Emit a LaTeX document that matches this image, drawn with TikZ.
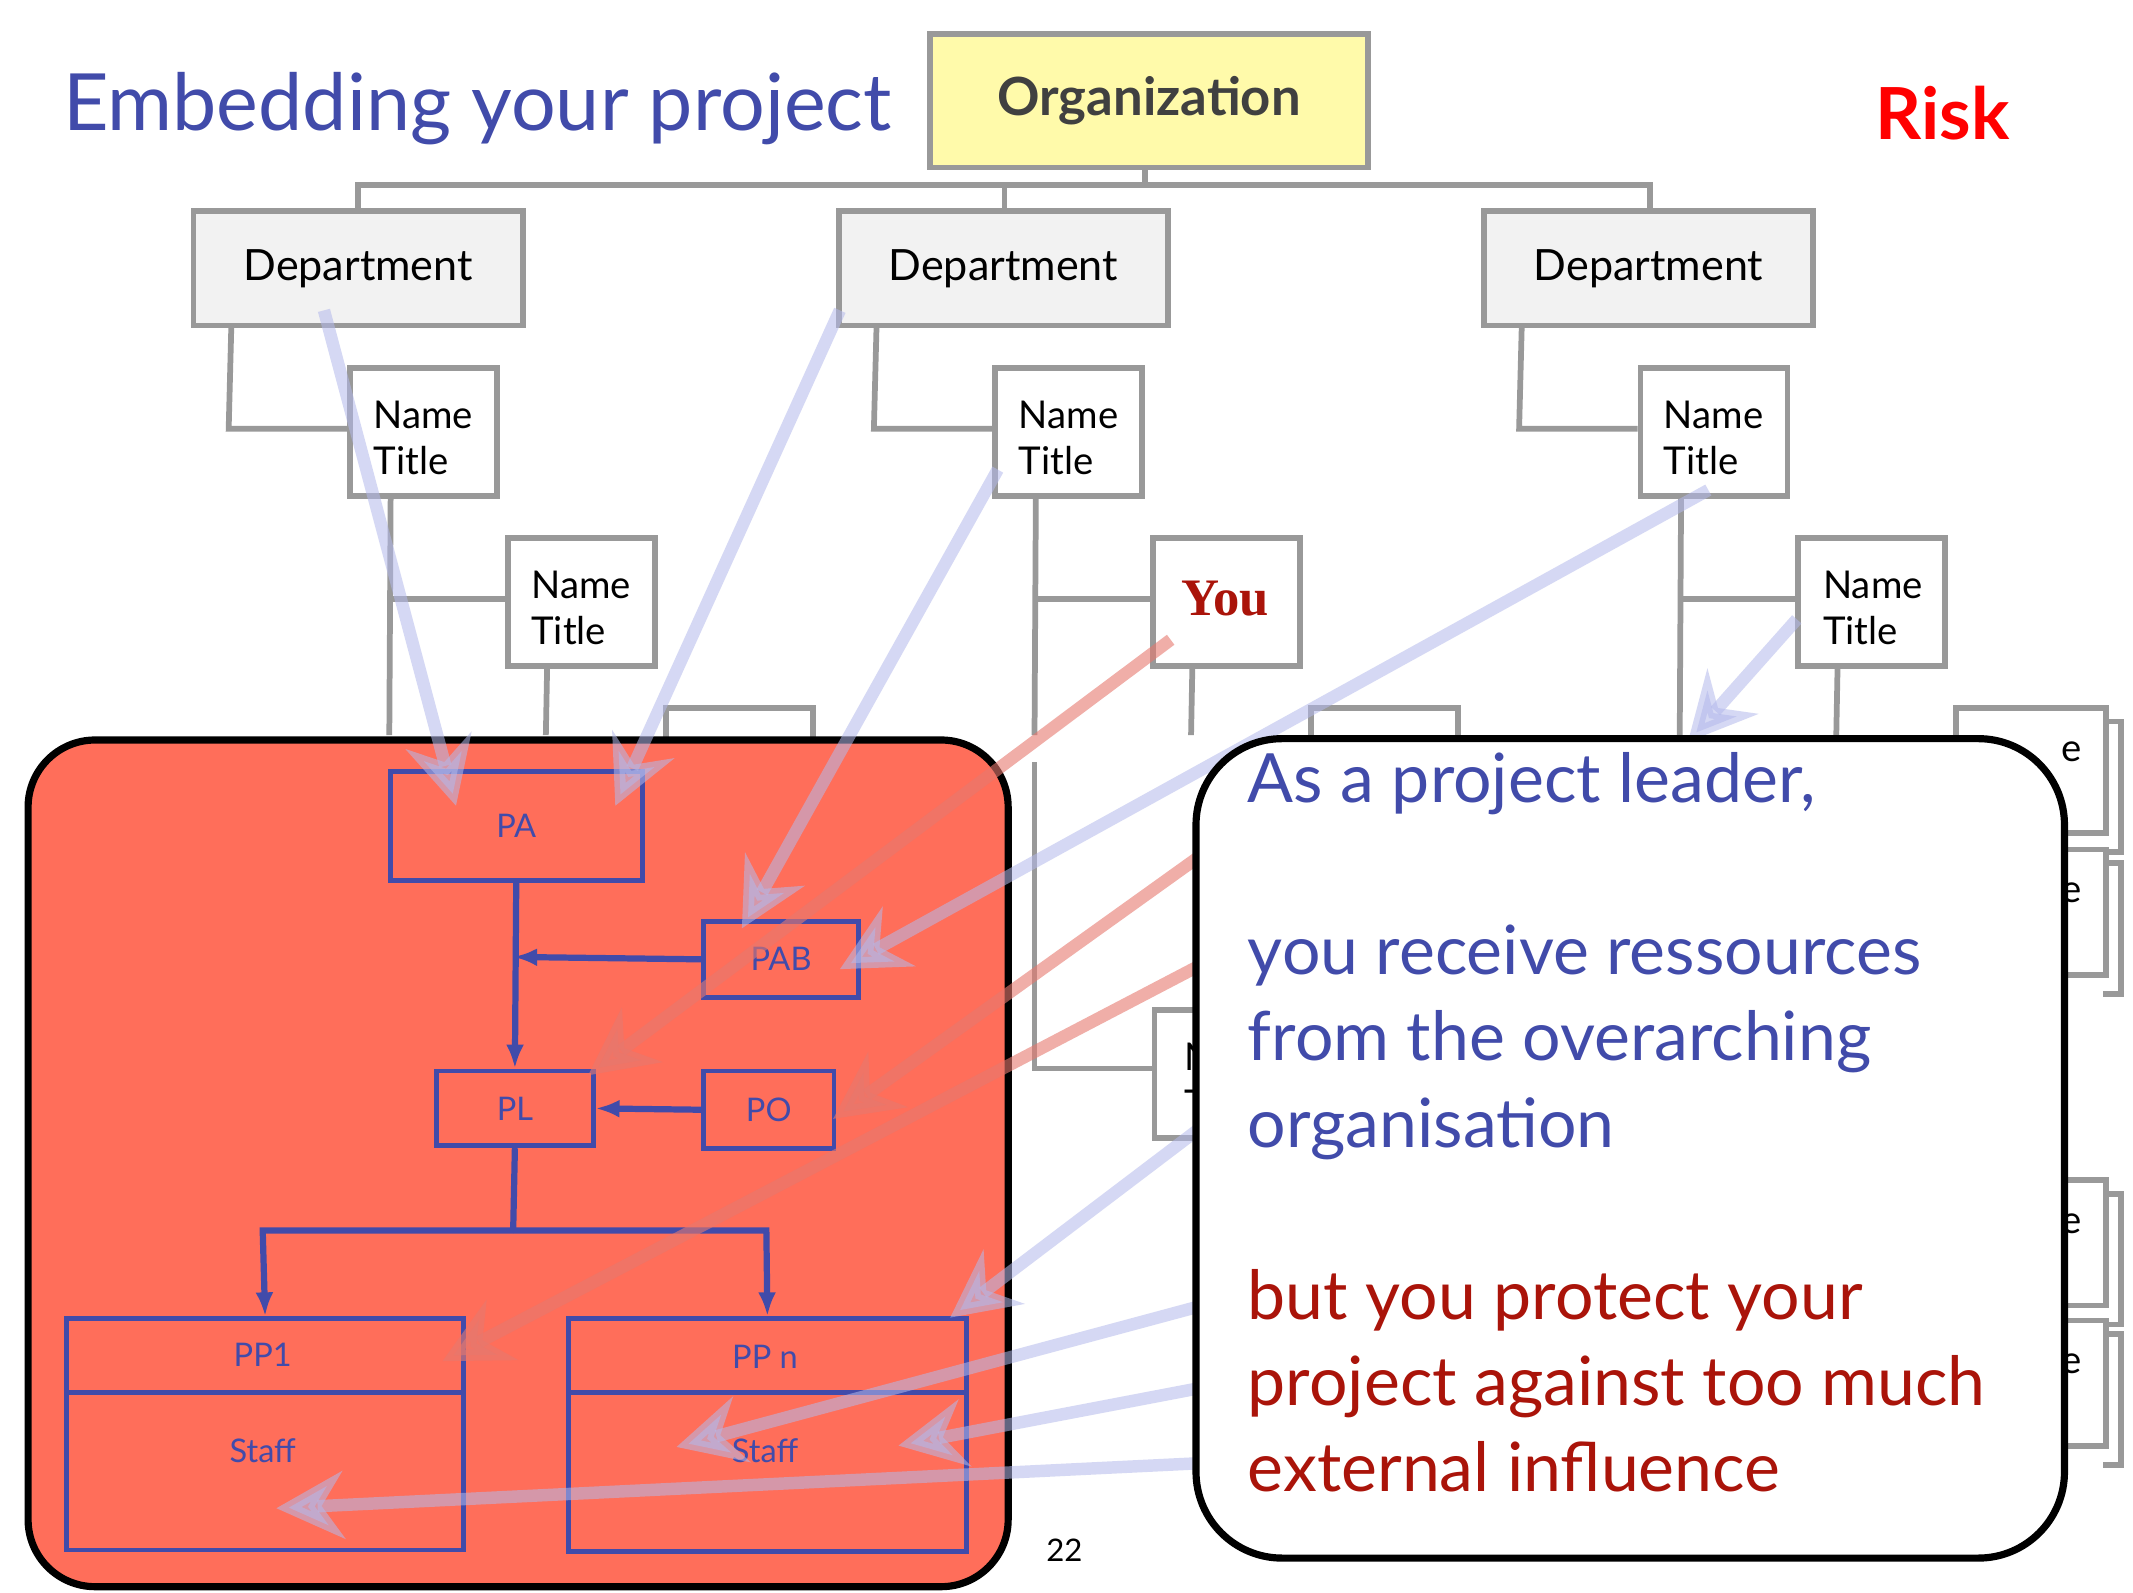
\documentclass[tikz,border=0pt]{standalone}
\usepackage{fontspec}
\setmainfont{Lato}
\usetikzlibrary{arrows.meta}
\definecolor{tblue}{RGB}{65,75,170}
\definecolor{tred}{RGB}{170,20,10}
\definecolor{orgy}{RGB}{255,250,170}
\definecolor{panel}{RGB}{255,110,90}
\definecolor{lav}{RGB}{180,185,235}
\definecolor{pnk}{RGB}{230,120,110}
\tikzset{
 gbox/.style={draw=gray!80,line width=1.2pt},
 gl/.style={draw=gray!80,line width=1.2pt},
 nt/.style={font=\fontsize{8}{9.7}\selectfont,align=left,anchor=north west},
 pb/.style={draw=tblue,line width=1pt},
 pt/.style={font=\fontsize{6.8}{8}\selectfont,text=tblue},
 pa/.style={draw=tblue,line width=1.3pt,-{Latex[length=5pt]}},
 fb/.style={draw=lav,opacity=0.55,line width=2.6pt,-{Stealth[length=14pt,width=14pt]}},
 fr/.style={draw=pnk,opacity=0.6,line width=2.6pt,-{Stealth[length=14pt,width=14pt]}},
 bx/.style 2 args={minimum width=#1*0.01cm,minimum height=#2*0.01cm,anchor=north west,inner sep=0},
}
\begin{document}
\begin{tikzpicture}[x=0.01cm,y=-0.01cm]
\useasboundingbox (0,0) rectangle (1567,1170);
\fill[white] (0,0) rectangle (1567,1170);
% title
\node[anchor=west,text=tblue,font=\fontsize{16.5}{18}\selectfont] (title) at (34,80) {Embedding your project};
\node[text=red,font=\fontsize{15}{18}\selectfont\bfseries] (risk) at (1427,83) {Risk};
% org connectors
\draw[gl] (841,121) -- (841,136);
\draw[gl] (263,153) -- (263,136) -- (1212,136) -- (1212,153);
\draw[gl] (738,136) -- (738,153);
\node[gbox,fill=orgy,bx={322}{98},font=\fontsize{11}{12}\selectfont\bfseries,text=black!75] (org) at (681,23) {Organization};
% columns
\foreach \dx/\nm in {0/a,474/b,948/c}{
 \draw[gl] (170+\dx,237) -- (168+\dx,315) -- (255+\dx,315);
 \draw[gl] (287+\dx,362) -- (286+\dx,540);
 \draw[gl] (287+\dx,440) -- (371+\dx,440);
 \draw[gl] (402+\dx,487) -- (401+\dx,540);
 \node[gbox,fill=black!5,bx={242}{84},font=\fontsize{9}{10}\selectfont] (d\nm) at (140+\dx,153) {Department};
 \node[gbox,fill=white,bx={108}{94}] (n\nm) at (255+\dx,268) {};
 \node[nt] at (262+\dx,282) {Name\\Title};
 \node[gbox,fill=white,bx={108}{94}] (m\nm) at (371+\dx,393) {};
 \node[gbox,fill=white,bx={108}{30}] (t\nm) at (487+\dx,518) {};
}
\node[nt] at (378,407) {Name\\Title};
\node[nt] at (1327,407) {Name\\Title};
\node[text=tred,font=\fontsize{11}{12}\selectfont\bfseries\fontspec{Liberation Serif}] at (900,440) {You};
\draw[gl] (760,560) -- (760,785) -- (846,785);
\node[gbox,fill=white,bx={60}{94}] (nb2) at (846,740) {};
\node[nt] at (858,754) {N\\T};
% right edge boxes
\foreach \yy in {518,622,865,968}{
 \node[gbox,fill=white,bx={110}{92}] at (1435,\yy) {};
 \node[font=\fontsize{8}{9}\selectfont] at (1522,\yy+34) {e};
 \draw[gl] (1545,\yy+12) -- (1558,\yy+12) -- (1558,\yy+108) -- (1545,\yy+108);
}
% red panel
\node[draw=black,line width=1.5pt,fill=panel,rounded corners=14,bx={720}{622}] (panel) at (18,541) {};
\node[pb,bx={185}{80},pt] (PA) at (285,565) {PA};
\node[pb,bx={114}{56},pt] (PAB) at (515,675) {PAB};
\node[pb,bx={115}{55},pt] (PL) at (319,785) {PL};
\node[pb,bx={96}{57},pt] (PO) at (515,785) {PO};
\node[pb,bx={292}{170}] (PP1) at (47,967) {};
\node[pb,bx={292}{171}] (PPn) at (416,967) {};
\draw[pb] (47,1023) -- (339,1023);
\draw[pb] (416,1023) -- (708,1023);
\node[pt] at (193,995) {PP1};
\node[pt] at (562,997) {PP n};
\node[pt] at (193,1066) {Staff};
\node[pt] at (562,1066) {Staff};
\coordinate (j1) at (377,703);
\coordinate (j2) at (377,904);
\draw[pa] (PA.south) -- (PL.north);
\draw[pa] (PAB.west) -- (j1);
\draw[pa] (PO.west) -- (PL.east);
\draw[pb,line width=1.3pt] (PL.south) -- (j2);
\draw[pa] (j2) -- (193,904) -- (PP1.north);
\draw[pa] (j2) -- (563,904) -- (PPn.north);
\node[font=\fontsize{6.5}{8}\selectfont] (pg) at (782,1139) {22};
% fuzzy arrows
\draw[fb] (238,228) -- (335,592);
\draw[fb] (617,228) -- (452,592);
\draw[fb] (733,345) -- (545,682);
\draw[fb] (1255,360) -- (617,712);
\draw[fb] (1320,455) -- (1240,545);
\draw[fb] (880,830) -- (698,968);
\draw[fb] (880,960) -- (497,1063);
\draw[fb] (880,1020) -- (660,1062);
\draw[fb] (880,1075) -- (203,1108);
\draw[fr] (860,470) -- (432,790);
\draw[fr] (880,630) -- (612,822);
\draw[fr] (880,710) -- (325,1000);
% white box
\node[draw=black,line width=1.5pt,fill=white,rounded corners=18,bx={638}{602}] (wb) at (876,540) {};
\node[anchor=north west,align=left,font=\fontsize{14.2}{18}\selectfont,inner sep=0] (txt) at (916,552) {\textcolor{tblue}{As a project leader,}\\[18pt]\textcolor{tblue}{you receive ressources}\\\textcolor{tblue}{from the overarching}\\\textcolor{tblue}{organisation}\\[18pt]\textcolor{tred}{but you protect your}\\\textcolor{tred}{project against too much}\\\textcolor{tred}{external influence}};
\end{tikzpicture}
\end{document}
